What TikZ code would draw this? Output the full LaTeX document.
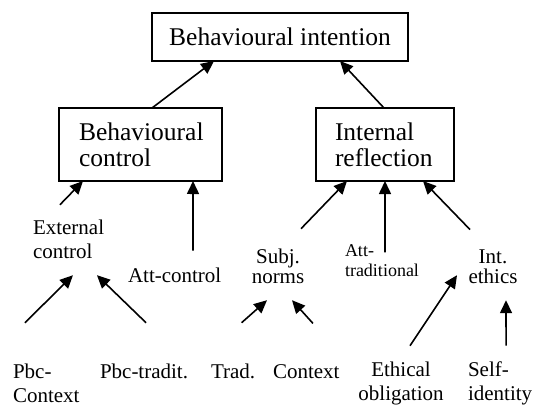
\documentclass[tikz,border=0pt]{standalone}
\usepackage{fontspec}
\setmainfont{Liberation Serif}
\usepackage{tikz}
\usetikzlibrary{arrows.meta, positioning}
\newcommand\boxfont{\fontsize{25.5}{26}\selectfont}
\newcommand\lblfont{\fontsize{21}{24}\selectfont}
\newcommand\tightfont{\fontsize{21}{20}\selectfont}
\newcommand\smallfont{\fontsize{18}{20}\selectfont}
\tikzset{
	box/.style ={rectangle, draw=black, line width=2.2pt, inner sep=0pt, outer sep=0pt, font=\boxfont},
	lbl/.style ={inner sep=0pt, outer sep=0pt, font=\lblfont},
	arr/.style ={-{Triangle[length=13pt, width=12pt]}, line width=1.6pt},
}
\begin{document}
\begin{tikzpicture}[x=1pt, y=-1pt]
	\useasboundingbox (0,0) rectangle (539,407);
	% boxes
	\node[box, minimum width=256pt, minimum height=48pt] (bi) at (280,37) {Behavioural intention};
	\node[box, minimum width=163pt, minimum height=73pt, text width=123pt, align=left] (bc) at (140.5,144.5) {Behavioural\\control};
	\node[box, minimum width=138pt, minimum height=73pt, text width=100pt, align=left] (ir) at (385,144.5) {Internal\\reflection};
	% middle labels (base = last line)
	\node[lbl, anchor=base west, align=left] (ext) at (33,258) {External\\control};
	\node[lbl, anchor=base west] (attc) at (128,282) {Att-control};
	\node[lbl, anchor=base, align=center, font=\tightfont] (subj) at (278,283) {Subj.\\norms};
	\node[lbl, anchor=base west, align=left, font=\smallfont] (atttrad) at (345,276) {Att-\\traditional};
	\node[lbl, anchor=base, align=center, font=\tightfont] (inteth) at (493,283) {Int.\\ethics};
	% bottom labels
	\node[lbl, anchor=base west, align=left] (pbcctx) at (13,402) {Pbc-\\Context};
	\node[lbl, anchor=base west] (pbctrad) at (100,378) {Pbc-tradit.};
	\node[lbl, anchor=base west] (trad) at (211,378) {Trad.};
	\node[lbl, anchor=base west] (ctx) at (273,378) {Context};
	\node[lbl, anchor=base, align=center] (ethob) at (401,400) {Ethical\\obligation};
	\node[lbl, anchor=base west, align=left] (selfid) at (468,400) {Self-\\identity};
	% arrows
	\draw[arr] ([shift={(11.5,0)}]bc.north) -- ([shift={(-66,0)}]bi.south);
	\draw[arr] ([shift={(-1,0)}]ir.north) -- ([shift={(60,0)}]bi.south);
	\draw[arr] ([shift={(-8.6,-14.7)}]ext.north) -- ([shift={(24,0)}]bc.south west);
	\draw[arr] ([shift={(18.3,-16.7)}]attc.north) -- ([shift={(-29,0)}]bc.south east);
	\draw[arr] ([shift={(-21.3,-40.7)}]pbcctx.north) -- ([shift={(4.4,17)}]ext.south);
	\draw[arr] ([shift={(2,-40.7)}]pbctrad.north) -- ([shift={(28.4,17)}]ext.south);
	\draw[arr] ([shift={(8.5,-40.7)}]trad.north) -- ([shift={(-11,17)}]subj.south);
	\draw[arr] ([shift={(6.7,-40.7)}]ctx.north) -- ([shift={(14,17)}]subj.south);
	\draw[arr] ([shift={(23,-19.7)}]subj.north) -- ([shift={(31,0)}]ir.south west);
	\draw[arr] ([shift={(3,8.3)}]atttrad.north) -- (ir.south);
	\draw[arr] ([shift={(-23,-19.7)}]inteth.north) -- ([shift={(38,0)}]ir.south);
	\draw[arr] ([shift={(9,-15.7)}]ethob.north) -- ([shift={(-36,-8)}]inteth.south);
	\draw[arr] ([shift={(6,-15.7)}]selfid.north) -- ([shift={(13,17)}]inteth.south);
\end{tikzpicture}
\end{document}
